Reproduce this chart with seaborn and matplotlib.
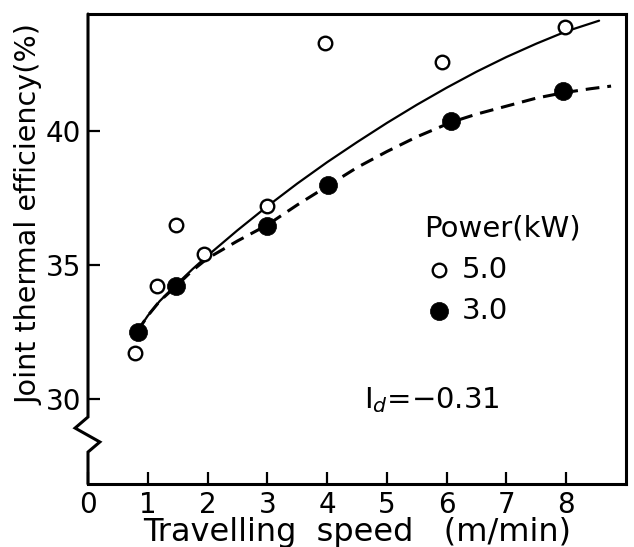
import matplotlib
matplotlib.use('Agg')
import matplotlib.pyplot as plt
import numpy as np
import pandas as pd
import seaborn as sns

speed_5kw = [0.78, 1.15, 1.47, 1.94, 3.0, 3.97, 5.93, 7.98]
eff_5kw = [31.7, 34.2, 36.5, 35.4, 37.2, 43.3, 42.6, 43.9]
speed_3kw = [0.83, 1.47, 2.99, 4.02, 6.08, 7.95]
eff_3kw = [32.5, 34.2, 36.45, 38.0, 40.4, 41.5]

# trend curves
curve_5kw_x = [0.82, 1.0, 1.2, 1.47, 1.75, 2.0, 2.5, 3.0, 3.5, 4.0, 4.5, 5.0,
               5.5, 6.0, 6.5, 7.0, 7.5, 8.0, 8.55]
curve_5kw_y = [32.5, 33.1, 33.65, 34.25, 34.85, 35.35, 36.3, 37.2, 38.05, 38.85,
               39.6, 40.32, 41.0, 41.64, 42.24, 42.79, 43.29, 43.75, 44.15]
curve_3kw_x = [0.82, 1.0, 1.2, 1.47, 1.75, 2.0, 2.5, 3.0, 3.5, 4.0, 4.5, 5.0,
               5.5, 6.08, 6.5, 7.0, 7.5, 7.95, 8.4, 8.75]
curve_3kw_y = [32.5, 33.1, 33.65, 34.2, 34.8, 35.25, 35.9, 36.5, 37.25, 37.95,
               38.65, 39.25, 39.8, 40.35, 40.65, 40.95, 41.25, 41.45, 41.6, 41.7]

x_ticks = [0, 1, 2, 3, 4, 5, 6, 7, 8]
y_ticks = [30, 35, 40]

sns.set_theme(style='ticks')
plt.rcParams['font.family'] = ['DejaVu Sans']
for key in ['text.color', 'axes.labelcolor', 'xtick.color', 'ytick.color',
            'axes.edgecolor']:
    plt.rcParams[key] = 'black'

fig = plt.figure(figsize=(6.34, 5.47), dpi=100)
ax = fig.add_axes([0.1388, 0.1152, 0.8486, 0.8592])

sns.lineplot(x=curve_5kw_x, y=curve_5kw_y, ax=ax, color='black', lw=1.6,
             sort=False, zorder=2)
sns.lineplot(x=curve_3kw_x, y=curve_3kw_y, ax=ax, color='black', lw=2.2,
             sort=False, zorder=2, linestyle=(0, (4.5, 2.6)))

df_5 = pd.DataFrame({'speed': speed_5kw, 'eff': eff_5kw})
df_3 = pd.DataFrame({'speed': speed_3kw, 'eff': eff_3kw})
sns.scatterplot(data=df_5, x='speed', y='eff', ax=ax, s=95, marker='o',
                facecolor='white', edgecolor='black', linewidth=1.7,
                zorder=3, label='5.0')
sns.scatterplot(data=df_3, x='speed', y='eff', ax=ax, s=170, marker='o',
                color='black', edgecolor='black', linewidth=0.5,
                zorder=3, label='3.0')

ax.set_xlim(0, 9)
ax.set_ylim(26.8, 44.4)
ax.set_xticks(x_ticks)
ax.set_yticks(y_ticks)
ax.tick_params(direction='in', length=8.5, width=1.6, labelsize=20, pad=5)

ax.set_xlabel('Travelling  speed   (m/min)', fontsize=23)
ax.set_ylabel('Joint thermal efficiency(%)', fontsize=20.6)
ax.xaxis.set_label_coords(0.50, -0.070)
ax.yaxis.set_label_coords(-0.082, 0.574)

for side in ['top', 'right', 'bottom']:
    ax.spines[side].set_linewidth(2.2)
ax.spines['left'].set_visible(False)

# left axis line with the break symbol
brk_x = [0, 0, -0.024, 0.022, 0, 0]
brk_y = [1, 0.1426, 0.119, 0.0894, 0.068, 0]
ax.plot(brk_x, brk_y, transform=ax.transAxes, color='black', lw=2.2,
        clip_on=False, zorder=5, solid_joinstyle='miter')

leg = ax.legend(title='Power(kW)', loc='upper left',
                bbox_to_anchor=(0.625, 0.5735), frameon=False, fontsize=21,
                title_fontsize=21, handletextpad=0.3, labelspacing=0.45,
                borderaxespad=0, borderpad=0, handlelength=1.0)
leg._legend_box.align = 'left'

ax.text(4.62, 29.93, r'I$_d$=$-$0.31', fontsize=21, ha='left', va='center')

fig.savefig('out.png', dpi=100)
